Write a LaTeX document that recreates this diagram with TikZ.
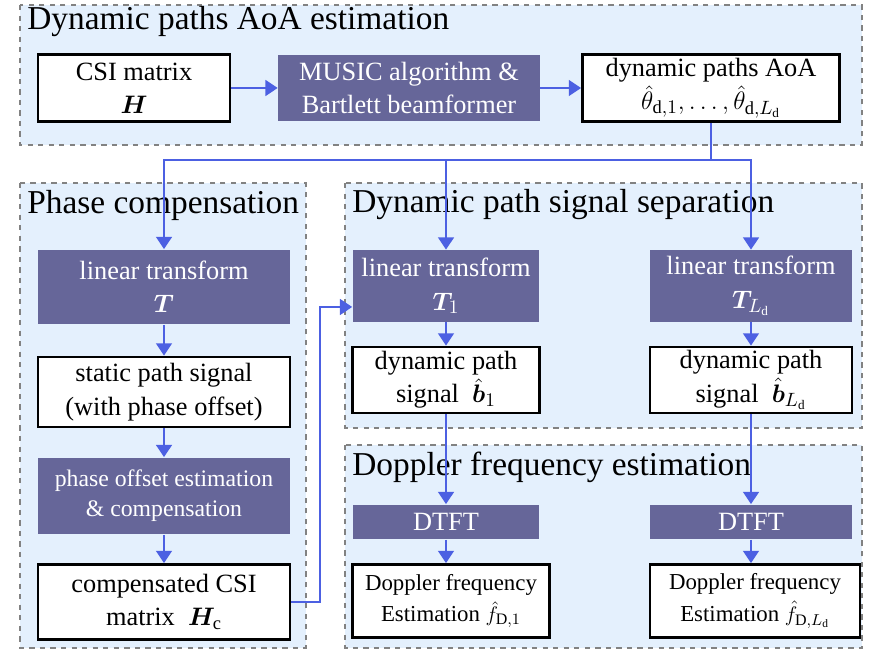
\documentclass[tikz,border=0pt]{standalone}
\usepackage{fontspec}
\usepackage{amsmath}
\usepackage{bm}
\usetikzlibrary{arrows.meta}
\setmainfont{LiberationSerif}[Extension=.ttf,UprightFont=*-Regular,BoldFont=*-Bold,
    ItalicFont=*-Italic,BoldItalicFont=*-BoldItalic]
\definecolor{boxpurple}{RGB}{102,102,153}
\definecolor{flowblue}{RGB}{76,96,226}
\definecolor{panelfill}{RGB}{228,240,253}
\definecolor{panelline}{RGB}{130,130,130}
\begin{document}
\begin{tikzpicture}[x=0.02cm,y=-0.02cm,
    panel/.style={draw=panelline,fill=panelfill,dashed,line width=1.2pt},
    title/.style={anchor=west,inner sep=0pt,font=\fontsize{19}{22}\selectfont},
    plain/.style={draw=black,fill=white,line width=1.6pt,align=center,inner sep=1pt,
        font=\fontsize{15}{19}\selectfont},
    shaded/.style={fill=boxpurple,text=white,align=center,inner sep=1pt,
        font=\fontsize{15}{19}\selectfont},
    flow/.style={draw=flowblue,line width=1.2pt,-{Triangle[width=9pt,length=7pt]}},
    wire/.style={draw=flowblue,line width=1.2pt}]
            \useasboundingbox (0,0) rectangle (869,651);

            \draw[panel] (20,5) rectangle (862,145);
            \draw[panel] (20,183) rectangle (306,648);
            \draw[panel] (345,183) rectangle (862,428);
            \draw[panel] (345,445) rectangle (862,648);

            \node[title] (t1) at (27,22)  {Dynamic paths AoA estimation};
            \node[title] (t2) at (27,205) {Phase compensation};
            \node[title] (t3) at (352,205) {Dynamic path signal separation};
            \node[title] (t4) at (352,467) {Doppler frequency estimation};

            \node[plain,minimum width=3.84cm,minimum height=1.34cm] (csi) at (134,88)
                {CSI matrix\\ $\bm{H}$};
            \node[shaded,minimum width=5.24cm,minimum height=1.34cm] (music) at (409,88)
                {MUSIC algorithm \&\\ Bartlett beamformer};
            \node[plain,minimum width=5.14cm,minimum height=1.34cm] (aoa) at (711,88)
                {dynamic paths AoA\\ $\hat{\theta}_{\mathrm{d},1},\ldots,\hat{\theta}_{\mathrm{d},L_\mathrm{d}}$};

            \node[shaded,minimum width=5.04cm,minimum height=1.5cm] (T) at (164,287)
                {linear transform\\ $\bm{T}$};
            \node[plain,minimum width=5.04cm,minimum height=1.4cm] (static) at (164,392)
                {static path signal\\ (with phase offset)};
            \node[shaded,minimum width=5.04cm,minimum height=1.54cm,
                font=\fontsize{13.5}{17}\selectfont] (offset) at (164,496)
                {phase offset estimation\\ \& compensation};
            \node[plain,minimum width=5.04cm,minimum height=1.5cm] (comp) at (164,602)
                {compensated CSI\\ matrix\ \ $\bm{H}_\mathrm{c}$};

            \node[shaded,minimum width=3.74cm,minimum height=1.44cm] (T1) at (446,286)
                {linear transform\\ $\bm{T}_1$};
            \node[plain,minimum width=3.74cm,minimum height=1.32cm] (b1) at (446,380)
                {dynamic path\\ signal\ \ $\hat{\bm{b}}_1$};
            \node[shaded,minimum width=4.04cm,minimum height=1.44cm] (TL) at (751,286)
                {linear transform\\ $\bm{T}_{L_\mathrm{d}}$};
            \node[plain,minimum width=4.04cm,minimum height=1.32cm] (bL) at (751,380)
                {dynamic path\\ signal\ \ $\hat{\bm{b}}_{L_\mathrm{d}}$};

            \node[shaded,minimum width=3.74cm,minimum height=0.7cm] (dtft1) at (446,522) {DTFT};
            \node[shaded,minimum width=4.04cm,minimum height=0.7cm] (dtft2) at (751,522) {DTFT};
            \node[plain,minimum width=3.94cm,minimum height=1.46cm,
                font=\fontsize{13}{18}\selectfont] (dop1) at (451,601)
                {Doppler frequency\\ Estimation $\hat{f}_{\mathrm{D},1}$};
            \node[plain,minimum width=4.2cm,minimum height=1.46cm,
                font=\fontsize{13}{18}\selectfont] (dop2) at (755,601)
                {Doppler frequency\\ Estimation $\hat{f}_{\mathrm{D},L_\mathrm{d}}$};

            \draw[flow] (csi) -- (music);
            \draw[flow] (music) -- (aoa);

            \coordinate (split) at (aoa.south |- 0,160);
            \draw[wire] (aoa.south) -- (split);
            \draw[flow] (split) -| (T.north);
            \draw[flow] (split) -| (T1.north);
            \draw[flow] (split) -| (TL.north);

            \draw[flow] (T) -- (static);
            \draw[flow] (static) -- (offset);
            \draw[flow] (offset) -- (comp);

            \coordinate (low) at (320,602);
            \coordinate (high) at (320,307);
            \draw[flow] (comp.east) -- (low) -- (high) -- (T1.west |- high);

            \draw[flow] (T1) -- (b1);
            \draw[flow] (b1) -- (dtft1);
            \draw[flow] (dtft1) -- (dtft1 |- dop1.north);
            \draw[flow] (TL) -- (bL);
            \draw[flow] (bL) -- (dtft2);
            \draw[flow] (dtft2) -- (dtft2 |- dop2.north);
        \end{tikzpicture}
\end{document}
